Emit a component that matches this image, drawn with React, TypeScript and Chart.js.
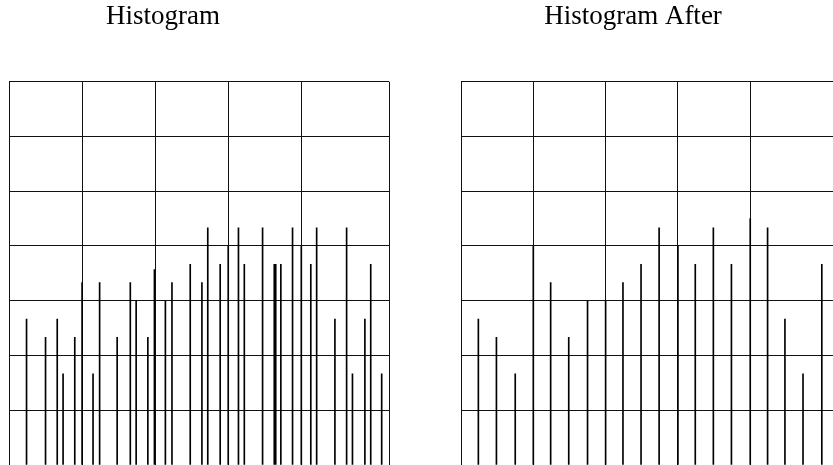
import React, { useEffect, useRef } from "react";
import { Chart, registerables } from "chart.js";

Chart.register(...registerables);

// Gray levels (x) and counts (y) of the original histogram
const beforeLevels = [12, 25, 33, 37, 45, 50, 57.5, 62, 74, 83, 87, 95, 99.5, 107, 111.5, 124, 132, 136, 144.5, 150, 157, 161, 173.5, 181.5, 182.5, 186, 194, 200, 206.5, 210.5, 223, 231, 235, 243.5, 247.5, 255];
const beforeCounts = [8, 7, 8, 5, 7, 10, 5, 10, 7, 10, 9, 7, 10.7, 9, 10, 11, 10, 13, 11, 12, 13, 11, 13, 11, 11, 11, 13, 12, 11, 13, 8, 13, 5, 8, 11, 5];

// Gray levels (x) and counts (y) after equalization
const afterLevels = [12, 24.5, 37.5, 50, 62, 74.5, 87.5, 100, 112, 124.5, 137, 150, 162, 174.5, 187, 200, 212, 224, 236.5, 249.5];
const afterCounts = [8, 7, 5, 12, 10, 7, 9, 9, 10, 11, 13, 12, 11, 13, 11, 13.5, 13, 8, 5, 11];

// Axis settings
const xGridTicks = [0, 50, 100, 150, 200, 260];
const yMax = 21;
const yStep = 3;

const LINE = "#111111";

type PanelProps = {
  title: string;
  levels: number[];
  counts: number[];
  left: number;
  width: number;
  axisWidth: number;
  padRight: number;
};

function Panel({ title, levels, counts, left, width, axisWidth, padRight }: PanelProps) {
  const ref = useRef<HTMLCanvasElement | null>(null);
  useEffect(() => {
    if (!ref.current) return;
    const chart = new Chart(ref.current, {
      type: "bar",
      data: {
        datasets: [
          {
            data: levels.map((v, i) => ({ x: v, y: counts[i] })),
            backgroundColor: "#000000",
            borderWidth: 0,
            barThickness: 1,
          } as any,
        ],
      },
      options: {
        animation: false,
        responsive: false,
        devicePixelRatio: 1,
        layout: { padding: { left: 0, right: padRight, top: 0, bottom: 0 } },
        plugins: {
          legend: { display: false },
          tooltip: { enabled: false },
          title: {
            display: true,
            text: title,
            color: "#000000",
            font: { family: "'Liberation Serif', 'Times New Roman', serif", size: 27, weight: "normal", lineHeight: 1.2 },
            padding: { top: 1, bottom: 48.3 },
          },
        },
        scales: {
          x: {
            type: "linear",
            min: 0,
            max: 260,
            offset: false,
            grid: { offset: false, color: LINE, lineWidth: 1, drawTicks: false },
            border: { display: true, color: LINE, width: 1 },
            ticks: { display: false },
            afterBuildTicks: (scale: any) => {
              scale.ticks = xGridTicks.map((v) => ({ value: v }));
            },
          },
          y: {
            min: 0,
            max: yMax,
            grid: { color: LINE, lineWidth: 1, drawTicks: false },
            border: { display: true, color: LINE, width: 1 },
            ticks: { display: false, stepSize: yStep },
            afterFit: (scale: any) => {
              scale.width = axisWidth;
            },
          },
        },
      } as any,
    });
    return () => chart.destroy();
  }, []);
  return (
    <div style={{ position: "absolute", left, top: 0, width, height: 465 }}>
      <canvas ref={ref} width={width} height={465} style={{ display: "block" }} />
    </div>
  );
}

export default function App() {
  return (
    <div
      style={{
        position: "fixed",
        left: 0,
        top: 0,
        width: 833,
        height: 465,
        overflow: "hidden",
        background: "#ffffff",
      }}
    >
      <Panel title="Histogram" levels={beforeLevels} counts={beforeCounts} left={-63} width={453} axisWidth={72} padRight={1} />
      <Panel title="Histogram After" levels={afterLevels} counts={afterCounts} left={429} width={408} axisWidth={32} padRight={0} />
    </div>
  );
}
